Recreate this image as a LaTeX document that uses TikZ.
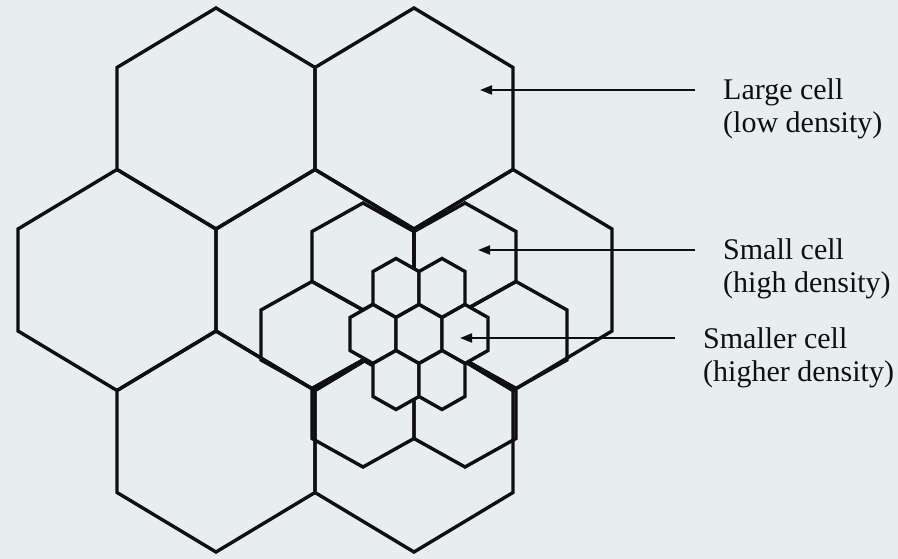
\documentclass[tikz,border=0pt]{standalone}
\usepackage{fontspec}
\setmainfont{Liberation Serif}
\usetikzlibrary{arrows.meta}
\definecolor{ScanPaper}{RGB}{232, 237, 239}
\definecolor{CellInk}{RGB}{15, 15, 15}

\begin{document}
\begin{tikzpicture}[
        x=1pt, y=-1pt,
        cellline/.style={
          draw=CellInk,
          line width=3.4pt
        },
        largecell/.pic={
          \draw[cellline] (0,-110.5) -- (99,-51) -- (99,51) -- (0,110.5) -- (-99,51) -- (-99,-51) -- cycle;
        },
        smallcell/.pic={
          \draw[cellline] (0,-53.5) -- (51,-25) -- (51,25) -- (0,53.5) -- (-51,25) -- (-51,-25) -- cycle;
        },
        smallercell/.pic={
          \draw[cellline, fill=ScanPaper] (0,-29.5) -- (23,-16.5) -- (23,16.5) -- (0,29.5) -- (-23,16.5) -- (-23,-16.5) -- cycle;
        },
        cellnote/.style={
          anchor=base west,
          inner sep=0pt,
          align=left,
          text=CellInk,
          font=\fontsize{30}{33}\selectfont
        },
        cellarrow/.style={
          draw=CellInk,
          line width=1.8pt,
          shorten <=28pt,
          -{Triangle[length=12pt, width=9pt]}
        }
      ]
        \useasboundingbox (0,0) rectangle (898,559);
        \fill[ScanPaper] (0,0) rectangle (898,559);

        \pic at (216,118.5) {largecell};
        \pic at (414,118.5) {largecell};
        \pic at (117,280)   {largecell};
        \pic at (315,280)   {largecell};
        \pic at (513,280)   {largecell};
        \pic at (216,441.5) {largecell};
        \pic at (414,441.5) {largecell};

        \pic at (363,256.5) {smallcell};
        \pic at (465,256.5) {smallcell};
        \pic at (312,335)   {smallcell};
        \pic at (414,335)   {smallcell};
        \pic at (516,335)   {smallcell};
        \pic at (363,413.5) {smallcell};
        \pic at (465,413.5) {smallcell};

        \pic at (396,288) {smallercell};
        \pic at (442,288) {smallercell};
        \pic at (373,334) {smallercell};
        \pic at (419,334) {smallercell};
        \pic at (465,334) {smallercell};
        \pic at (396,380) {smallercell};
        \pic at (442,380) {smallercell};

        \node (large)   at (723,133) [cellnote] {Large cell\\(low density)};
        \node (small)   at (723,292) [cellnote] {Small cell\\(high density)};
        \node (smaller) at (703,381) [cellnote] {Smaller cell\\(higher density)};

        \coordinate (largept)   at (480,90);
        \coordinate (smallpt)   at (478,250);
        \coordinate (smallerpt) at (460,338);

        \draw[cellarrow] (large.west |- largept) -- (largept);
        \draw[cellarrow] (small.west |- smallpt) -- (smallpt);
        \draw[cellarrow] (smaller.west |- smallerpt) -- (smallerpt);
      \end{tikzpicture}
\end{document}
